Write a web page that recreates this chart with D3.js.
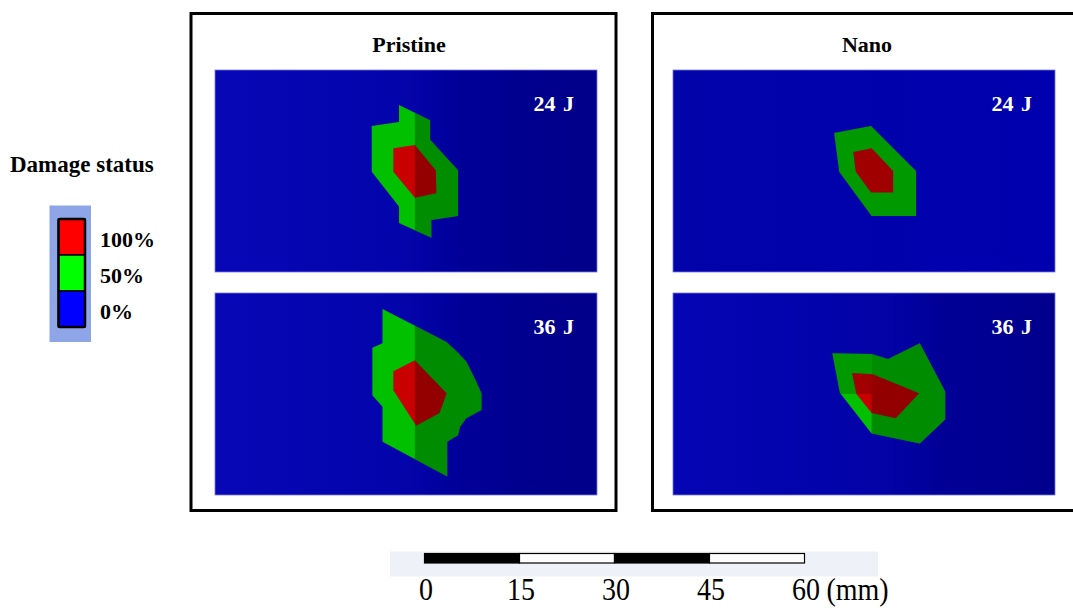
<!DOCTYPE html>
<html>
<head>
<meta charset="utf-8">
<script src="https://cdn.jsdelivr.net/npm/d3@7"></script>
<style>
body { margin: 0; background: #fff; }
svg { display: block; font-family: "Liberation Serif", "Times New Roman", serif; }
</style>
</head>
<body>
<div id="main"></div>
<script>
const width = 1073, height = 608;

const groups = ["Pristine", "Nano"];
const energies = ["24 J", "36 J"];
const damageLabels = ["100%", "50%", "0%"];
const scaleTicks = [0, 15, 30, 45, 60];
const scaleUnit = "(mm)";

// damage zones, in mm from the top-left corner of each specimen view
const pristine24Zone50 = [[24.7, 8.8], [29.0, 8.2], [29.0, 5.5], [33.9, 7.9], [33.9, 11.0], [38.3, 15.8],
    [38.3, 23.0], [34.1, 23.6], [34.1, 26.4], [29.0, 24.1], [29.0, 21.5], [24.7, 16.0]];
const pristine24Zone100 = [[28.1, 12.3], [31.5, 11.8], [34.8, 15.8], [34.9, 19.4], [31.5, 20.1], [28.1, 16.0]];

const pristine36Zone50 = [[26.4, 2.5], [36.5, 7.7], [38.1, 9.2], [39.6, 10.8], [40.9, 13.4], [42.0, 15.8],
    [42.0, 18.4], [39.6, 19.7], [38.6, 21.1], [38.3, 22.4], [36.6, 23.4], [36.6, 28.9], [26.4, 23.4],
    [26.4, 17.9], [24.8, 16.1], [24.8, 8.6], [26.4, 7.9]];
const pristine36Zone100 = [[28.1, 12.3], [31.5, 10.6], [36.5, 15.8], [35.4, 18.9], [31.7, 20.9], [28.1, 15.3]];

const nano24Zone50 = [[25.4, 9.9], [31.2, 8.8], [38.3, 15.9], [38.3, 23.0], [31.3, 23.0], [26.2, 16.0]];
const nano24Zone100 = [[28.4, 12.9], [31.3, 12.3], [34.7, 15.9], [34.7, 19.3], [31.2, 19.3], [28.8, 16.0]];

const nano36Zone50 = [[25.1, 9.5], [31.3, 9.6], [33.9, 10.4], [38.9, 7.9], [42.9, 15.5], [42.9, 19.9],
    [38.9, 23.7], [31.3, 22.1], [26.3, 15.7]];
const nano36Zone100 = [[28.2, 12.6], [31.5, 12.8], [38.8, 15.8], [35.1, 19.7], [31.3, 18.9], [28.9, 15.9]];

const panels = [
    {group: 0, energy: 0, zone50: pristine24Zone50, zone100: pristine24Zone100},
    {group: 0, energy: 1, zone50: pristine36Zone50, zone100: pristine36Zone100},
    {group: 1, energy: 0, zone50: nano24Zone50, zone100: nano24Zone100},
    {group: 1, energy: 1, zone50: nano36Zone50, zone100: nano36Zone100}
];

let svg = d3.select("#main").append("svg")
    .attr("width", width)
    .attr("height", height);

const defs = svg.append("defs");

function addGradient(id, stops) {
    const g = defs.append("linearGradient").attr("id", id)
        .attr("x1", 0).attr("x2", 1).attr("y1", 0).attr("y2", 0);
    stops.forEach(function (s) {
        g.append("stop").attr("offset", s[0]).attr("stop-color", s[1]);
    });
}
addGradient("bgStrong", [[0, "#0707b6"], [0.5, "#0404ab"], [0.62, "#00009b"], [0.78, "#00008f"], [1, "#00008a"]]);
addGradient("bgFlat", [[0, "#0303aa"], [1, "#0000ae"]]);
addGradient("bgNano36", [[0, "#0505b4"], [0.55, "#0303a8"], [0.7, "#000097"], [1, "#00008c"]]);

const boxW = 425, boxH = 497, panelW = 382, panelH = 202;
const boxX = [191, 652.5], boxY = 13.5;
const panelX = [215, 673], panelY = [70, 293];
const bgFor = [["bgStrong", "bgStrong"], ["bgFlat", "bgNano36"]];
// darker far side of each damage zone: [x0, x1, y0, y1] in mm, opacity
const shadeFor = [
    [[{box: [31.5, 60.2, 0, 31.8], op: 0.26}], [{box: [31.5, 60.2, 0, 31.8], op: 0.27}]],
    [[{box: [0, 60.2, 0, 31.8], op: 0.2}],
     [{box: [31.3, 60.2, 0, 31.8], op: 0.27}, {box: [0, 31.3, 0, 15.9], op: 0.2}]]
];

let x = d3.scaleLinear().domain([0, 60.2]).range([0, panelW]);
let y = d3.scaleLinear().domain([0, 31.8]).range([0, panelH]);
const zoneLine = d3.line()
    .x(function (d) { return x(d[0]); })
    .y(function (d) { return y(d[1]); })
    .curve(d3.curveLinearClosed);

// group frames and titles
groups.forEach(function (name, i) {
    svg.append("rect")
        .attr("x", boxX[i]).attr("y", boxY)
        .attr("width", i === 0 ? boxW : 460).attr("height", boxH)
        .attr("fill", "none").attr("stroke", "#000").attr("stroke-width", 3);
    svg.append("text")
        .attr("x", panelX[i] + panelW / 2 + 3).attr("y", 52)
        .attr("text-anchor", "middle")
        .attr("font-size", 22).attr("font-weight", "bold")
        .text(name);
});

panels.forEach(function (p, k) {
    const g = svg.append("g")
        .attr("transform", "translate(" + panelX[p.group] + "," + panelY[p.energy] + ")");
    g.append("rect")
        .attr("width", panelW).attr("height", panelH)
        .attr("fill", "url(#" + bgFor[p.group][p.energy] + ")")
        .attr("stroke", "#7676e6").attr("stroke-width", 0.8);

    g.append("path").datum(p.zone50).attr("d", zoneLine).attr("fill", "#00c000");
    g.append("path").datum(p.zone100).attr("d", zoneLine).attr("fill", "#c80000");

    defs.append("clipPath").attr("id", "clip" + k)
        .append("path").datum(p.zone50).attr("d", zoneLine);
    shadeFor[p.group][p.energy].forEach(function (s) {
        g.append("rect")
            .attr("x", x(s.box[0])).attr("y", y(s.box[2]))
            .attr("width", x(s.box[1]) - x(s.box[0])).attr("height", y(s.box[3]) - y(s.box[2]))
            .attr("fill", "#000").attr("opacity", s.op)
            .attr("clip-path", "url(#clip" + k + ")");
    });

    g.append("text")
        .attr("x", panelW - 23).attr("y", 41)
        .attr("text-anchor", "end")
        .attr("fill", "#fff")
        .attr("font-size", 22).attr("font-weight", "bold")
        .attr("word-spacing", 2)
        .text(energies[p.energy]);
});

// legend
svg.append("text")
    .attr("x", 10).attr("y", 172)
    .attr("font-size", 23).attr("font-weight", "bold")
    .text("Damage status");

const legendColors = ["#ff0000", "#00ff00", "#0000ff"];
let band = d3.scaleBand().domain(damageLabels).range([219, 327]);

svg.append("rect")
    .attr("x", 49.5).attr("y", 205.5).attr("width", 41.5).attr("height", 136.5)
    .attr("fill", "#8ea6e8");
svg.selectAll(".cell").data(damageLabels).join("rect")
    .attr("class", "cell")
    .attr("x", 58.5).attr("y", function (d) { return band(d); })
    .attr("width", 26.5).attr("height", band.bandwidth())
    .attr("fill", function (d, i) { return legendColors[i]; })
    .attr("stroke", "#000").attr("stroke-width", 1.5);
svg.append("rect")
    .attr("x", 58.5).attr("y", 219).attr("width", 26.5).attr("height", 108)
    .attr("fill", "none").attr("stroke", "#000").attr("stroke-width", 2.5).attr("rx", 1.5);
svg.selectAll(".lab").data(damageLabels).join("text")
    .attr("class", "lab")
    .attr("x", 100).attr("y", function (d) { return band(d) + band.bandwidth() / 2 + 10; })
    .attr("font-size", 22).attr("font-weight", "bold")
    .text(function (d) { return d; });

// scale bar
let scaleX = d3.scaleLinear().domain([0, 60]).range([424.5, 804.5]);
svg.append("rect")
    .attr("x", 390).attr("y", 551.5).attr("width", 488).attr("height", 25)
    .attr("fill", "#eff1f8");
svg.selectAll(".seg").data(d3.pairs(scaleTicks)).join("rect")
    .attr("class", "seg")
    .attr("x", function (d) { return scaleX(d[0]); })
    .attr("y", 553.5)
    .attr("width", function (d) { return scaleX(d[1]) - scaleX(d[0]); })
    .attr("height", 9.5)
    .attr("fill", function (d, i) { return i % 2 === 0 ? "#000" : "#fff"; })
    .attr("stroke", "#000").attr("stroke-width", 1.2);
svg.selectAll(".tick").data(scaleTicks).join("text")
    .attr("class", "tick")
    .attr("transform", function (d) { return "translate(" + (scaleX(d) + 1.5) + ",600) scale(1,1.12)"; })
    .attr("text-anchor", "middle")
    .attr("font-size", 28)
    .text(function (d) { return d; });
svg.append("text")
    .attr("transform", "translate(" + (scaleX(60) + 22) + ",600) scale(1,1.12)")
    .attr("font-size", 28)
    .text(scaleUnit);
</script>
</body>
</html>
